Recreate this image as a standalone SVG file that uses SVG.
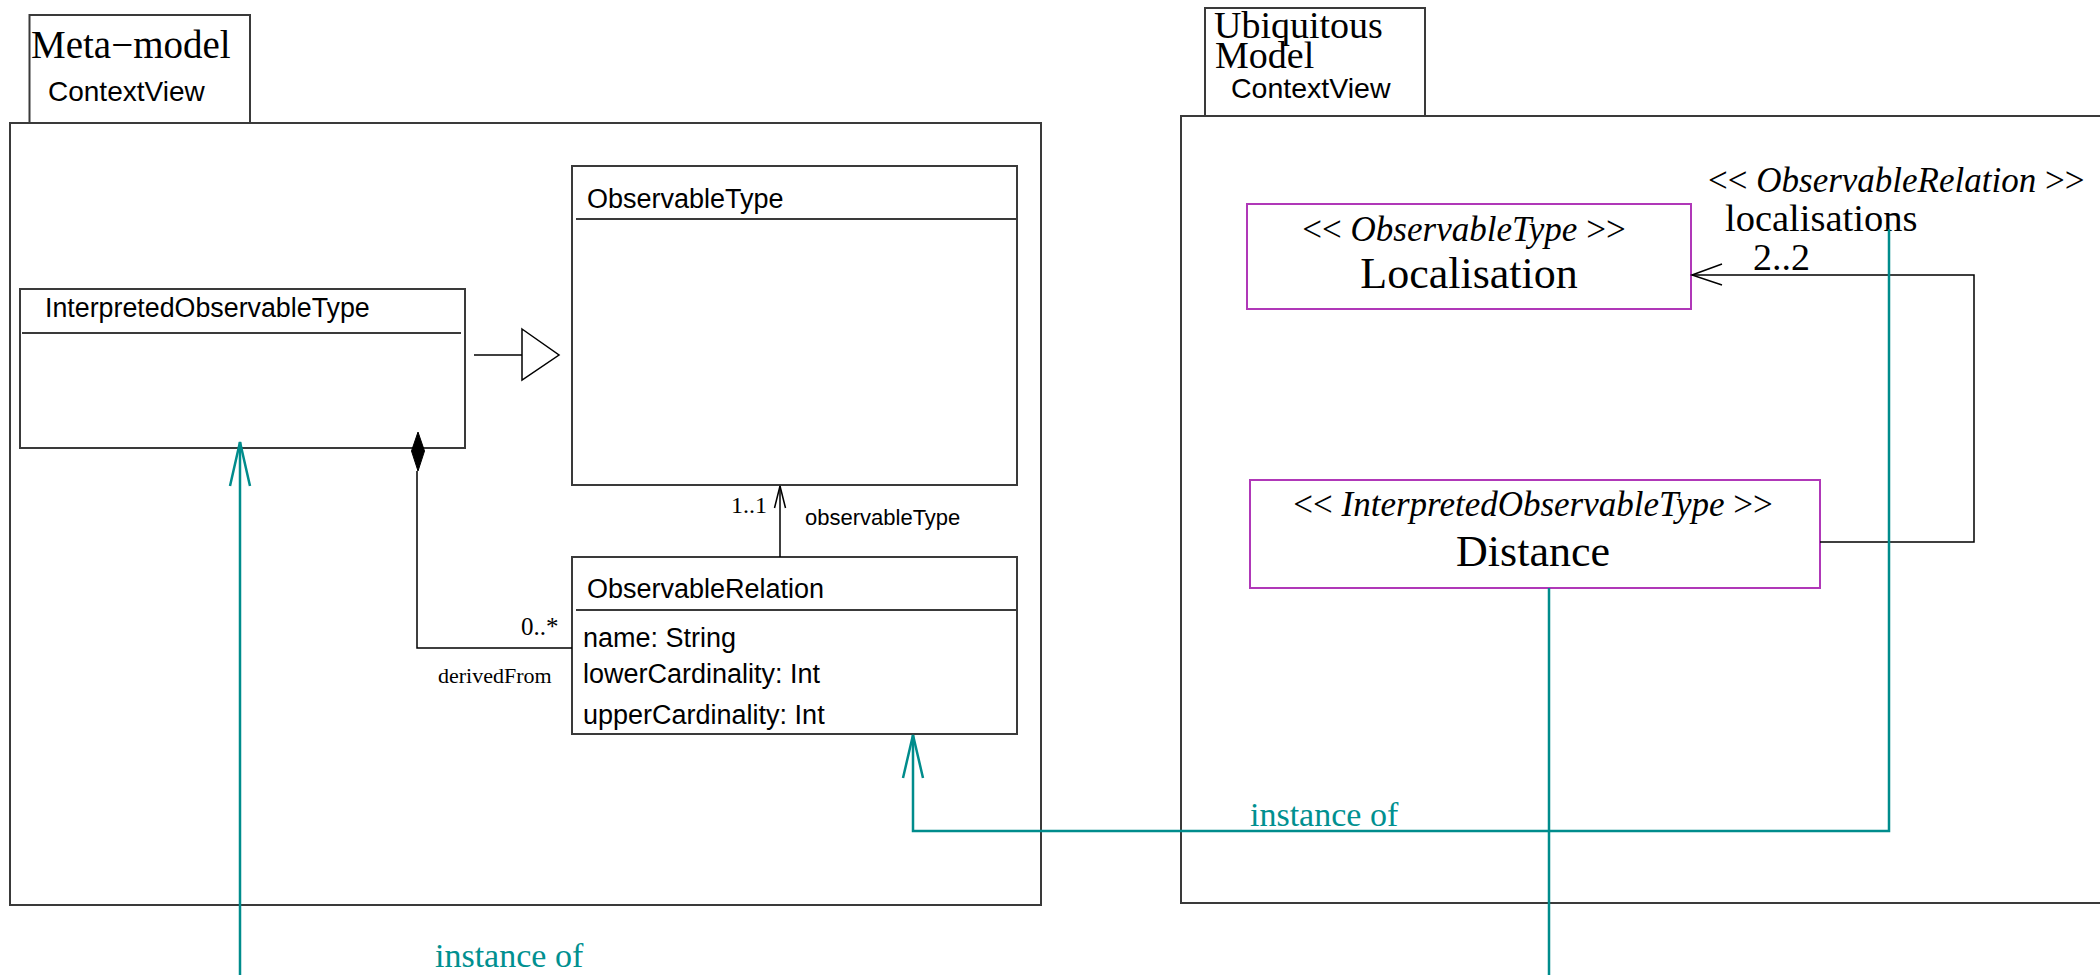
<svg xmlns="http://www.w3.org/2000/svg" width="2100" height="975" viewBox="0 0 2100 975">
<style>
.pkg{fill:#fff;stroke:#3a3a3a;stroke-width:2}
.cls{fill:#fff;stroke:#3a3a3a;stroke-width:2}
.sep{stroke:#3a3a3a;stroke-width:2}
.inst{fill:#fff;stroke:#b038b8;stroke-width:2}
.sans{font-family:"Liberation Sans",Arial,sans-serif;fill:#000}
.serif{font-family:"Liberation Serif","Times New Roman",serif;fill:#000}
.it{font-style:italic}
.ln{fill:none;stroke:#000;stroke-width:1.5}
.teal{fill:none;stroke:#008c8c;stroke-width:2.5}
.tealtxt{font-family:"Liberation Serif","Times New Roman",serif;font-size:34px;fill:#009090}
</style>
<g id="pkg-metamodel">
<rect class="pkg" x="29.5" y="15" width="220.5" height="108"/>
<rect class="pkg" x="10" y="123" width="1031" height="782"/>
<text class="serif" x="31" y="58" font-size="39">Meta−model</text>
<text class="sans" x="48" y="101" font-size="28">ContextView</text>
</g>
<g id="pkg-ubiquitous">
<rect class="pkg" x="1205" y="8" width="220" height="108"/>
<rect class="pkg" x="1181" y="116" width="940" height="787"/>
<text class="serif" x="1214" y="38" font-size="38">Ubiquitous</text>
<text class="serif" x="1215" y="68" font-size="38">Model</text>
<text class="sans" x="1231" y="98" font-size="28.5">ContextView</text>
</g>
<g id="InterpretedObservableType">
<rect class="cls" x="20" y="289" width="445" height="159"/>
<line class="sep" x1="22" y1="333" x2="461" y2="333"/>
<text class="sans" x="45" y="317" font-size="26.8">InterpretedObservableType</text>
</g>
<g id="ObservableType">
<rect class="cls" x="572" y="166" width="445" height="319"/>
<line class="sep" x1="576" y1="219" x2="1016" y2="219"/>
<text class="sans" x="587" y="208" font-size="27">ObservableType</text>
</g>
<g id="ObservableRelation">
<rect class="cls" x="572" y="557" width="445" height="177"/>
<line class="sep" x1="576" y1="610" x2="1016" y2="610"/>
<text class="sans" x="587" y="598" font-size="27">ObservableRelation</text>
<text class="sans" x="583" y="647" font-size="27">name: String</text>
<text class="sans" x="583" y="683" font-size="27">lowerCardinality: Int</text>
<text class="sans" x="583" y="724" font-size="27">upperCardinality: Int</text>
</g>
<g id="Localisation">
<rect class="inst" x="1247" y="204" width="444" height="105"/>
<text class="serif" x="1464" y="241" font-size="35" text-anchor="middle">&lt;&lt; <tspan class="it">ObservableType</tspan> &gt;&gt;</text>
<text class="serif" x="1469" y="288" font-size="44" text-anchor="middle">Localisation</text>
</g>
<g id="Distance">
<rect class="inst" x="1250" y="480" width="570" height="108"/>
<text class="serif" x="1533" y="516" font-size="35" text-anchor="middle">&lt;&lt; <tspan class="it">InterpretedObservableType</tspan> &gt;&gt;</text>
<text class="serif" x="1533" y="566" font-size="44" text-anchor="middle">Distance</text>
</g>
<g id="connectors">
<line class="ln" x1="474" y1="355" x2="522" y2="355"/>
<polygon points="522,329 559,355 522,380" fill="#fff" stroke="#000" stroke-width="1.5"/>
<polygon points="418,432 424.5,451 418,471 411.5,451" fill="#000" stroke="#000" stroke-width="1"/>
<polyline class="ln" points="417,471 417,648 572,648"/>
<text class="serif" x="521" y="635" font-size="25">0..*</text>
<text class="serif" x="438" y="683" font-size="22">derivedFrom</text>
<line class="ln" x1="780" y1="557" x2="780" y2="486"/>
<polyline class="ln" points="774.5,508 780,486 785.5,508"/>
<text class="serif" x="731" y="513" font-size="24">1..1</text>
<text class="sans" x="805" y="525" font-size="22">observableType</text>
<polyline class="ln" points="1820,542 1974,542 1974,275 1692,275"/>
<polyline class="ln" points="1722,264 1692,275 1722,285"/>
<text class="serif" x="1708" y="192" font-size="35">&lt;&lt; <tspan class="it">ObservableRelation</tspan> &gt;&gt;</text>
<text class="serif" x="1725" y="231" font-size="38.5">localisations</text>
<text class="serif" x="1753" y="270" font-size="38">2..2</text>
<line class="teal" x1="240" y1="975" x2="240" y2="442"/>
<polyline class="teal" points="230,486 240,442 250,486"/>
<polyline class="teal" points="1889,229 1889,831 913,831 913,735"/>
<polyline class="teal" points="903,778 913,735 923,778"/>
<line class="teal" x1="1549" y1="588" x2="1549" y2="975"/>
<text class="tealtxt" x="435" y="967">instance of</text>
<text class="tealtxt" x="1250" y="826">instance of</text>
</g>
</svg>
